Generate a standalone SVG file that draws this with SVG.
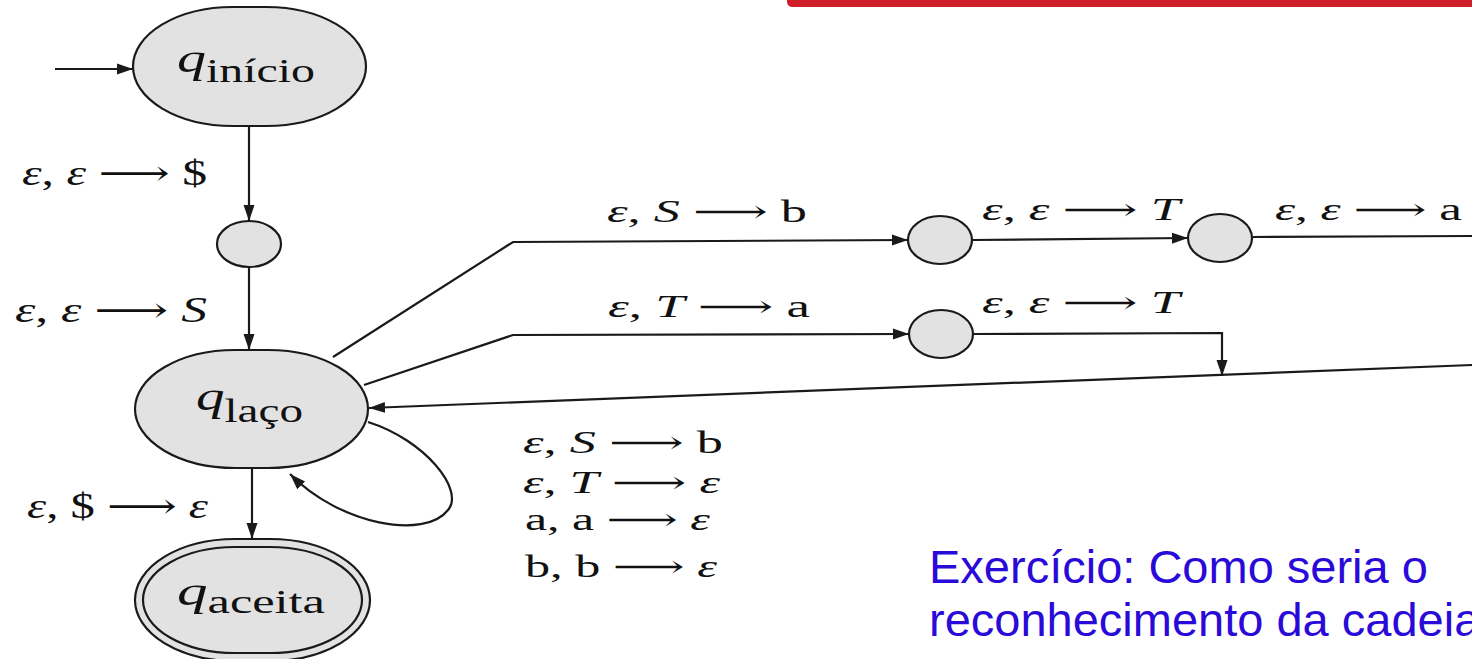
<svg xmlns="http://www.w3.org/2000/svg" width="1472" height="659" viewBox="0 0 1472 659">
<style>
.node{fill:#e2e2e2;stroke:#1a1a1a;stroke-width:2.2}
.edge{fill:none;stroke:#1a1a1a;stroke-width:2.2}
.lbl{font-family:"Liberation Serif","DejaVu Serif",serif;font-size:31px;fill:#111}
.big{font-size:35px}
.it{font-style:italic}
.ex{font-family:"Liberation Sans",Arial,sans-serif;font-size:47px;fill:#2a0ad8}
</style>
<defs>
<marker id="ah" markerUnits="userSpaceOnUse" markerWidth="18" markerHeight="14" refX="16" refY="7" orient="auto">
<path d="M0,1.5 L16,7 L0,12.5 Z" fill="#1a1a1a"/>
</marker>
</defs>
<rect width="1472" height="659" fill="#ffffff"/>
<path d="M787,0 L1472,0 L1472,7 L793,7 Q787,7 787,1 Z" fill="#d01e28"/>

<g id="connectors">
<path class="edge" d="M55,69 L133,69" marker-end="url(#ah)"/>
<path class="edge" d="M249,126 L249,221" marker-end="url(#ah)"/>
<path class="edge" d="M249,267 L249,350" marker-end="url(#ah)"/>
<path class="edge" d="M333,357 L513,242 L908,240" marker-end="url(#ah)"/>
<path class="edge" d="M364,385 L513,335 L909,334" marker-end="url(#ah)"/>
<path class="edge" d="M973,240 L1188,238" marker-end="url(#ah)"/>
<path class="edge" d="M1253,237 L1472,236"/>
<path class="edge" d="M974,334 L1222,333 L1222,376" marker-end="url(#ah)"/>
<path class="edge" d="M1472,365 L369,408" marker-end="url(#ah)"/>
<path class="edge" d="M368,422 C425,440 465,490 448,510 C425,540 340,525 290,474" marker-end="url(#ah)"/>
<path class="edge" d="M252,468 L252,539" marker-end="url(#ah)"/>
</g>

<g id="q_inicio">
<rect class="node" x="133" y="7" width="233" height="119" rx="100" ry="59.5"/>
<text class="lbl" x="177" y="72" textLength="138" lengthAdjust="spacingAndGlyphs"><tspan class="it" font-size="40">q</tspan><tspan dy="10" font-size="33">início</tspan></text>
</g>
<g id="n1">
<ellipse class="node" cx="249" cy="244" rx="32" ry="23"/>
</g>
<g id="q_laco">
<rect class="node" x="135" y="350" width="233" height="118" rx="100" ry="59"/>
<text class="lbl" x="196" y="410" textLength="107" lengthAdjust="spacingAndGlyphs"><tspan class="it" font-size="40">q</tspan><tspan dy="12" font-size="33">laço</tspan></text>
</g>
<g id="q_aceita">
<rect class="node" x="135" y="539" width="235" height="122" rx="100" ry="61"/>
<rect x="143" y="547" width="219" height="106" rx="92" ry="53" fill="none" stroke="#1a1a1a" stroke-width="2.2"/>
<text class="lbl" x="177" y="605" textLength="148" lengthAdjust="spacingAndGlyphs"><tspan class="it" font-size="40">q</tspan><tspan dy="8" font-size="33">aceita</tspan></text>
</g>
<g id="n2">
<ellipse class="node" cx="940" cy="240" rx="32" ry="24"/>
</g>
<g id="n3">
<ellipse class="node" cx="941" cy="334" rx="32" ry="24"/>
</g>
<g id="n4">
<ellipse class="node" cx="1220" cy="238" rx="32" ry="24"/>
</g>

<g id="labels">
<text class="lbl big" x="22" y="185" textLength="185" lengthAdjust="spacingAndGlyphs"><tspan class="it">ε</tspan>, <tspan class="it">ε</tspan> ⟶ $</text>
<text class="lbl big" x="15" y="322" textLength="192" lengthAdjust="spacingAndGlyphs"><tspan class="it">ε</tspan>, <tspan class="it">ε</tspan> ⟶ <tspan class="it">S</tspan></text>
<text class="lbl big" x="27" y="518" textLength="181" lengthAdjust="spacingAndGlyphs"><tspan class="it">ε</tspan>, $ ⟶ <tspan class="it">ε</tspan></text>
<text class="lbl" x="607" y="222" textLength="200" lengthAdjust="spacingAndGlyphs"><tspan class="it">ε</tspan>, <tspan class="it">S</tspan> ⟶ b</text>
<text class="lbl" x="608" y="317" textLength="202" lengthAdjust="spacingAndGlyphs"><tspan class="it">ε</tspan>, <tspan class="it">T</tspan> ⟶ a</text>
<text class="lbl" x="982" y="220" textLength="198" lengthAdjust="spacingAndGlyphs"><tspan class="it">ε</tspan>, <tspan class="it">ε</tspan> ⟶ <tspan class="it">T</tspan></text>
<text class="lbl" x="1275" y="220" textLength="187" lengthAdjust="spacingAndGlyphs"><tspan class="it">ε</tspan>, <tspan class="it">ε</tspan> ⟶ a</text>
<text class="lbl" x="982" y="313" textLength="198" lengthAdjust="spacingAndGlyphs"><tspan class="it">ε</tspan>, <tspan class="it">ε</tspan> ⟶ <tspan class="it">T</tspan></text>
<text class="lbl" x="523" y="453" textLength="200" lengthAdjust="spacingAndGlyphs"><tspan class="it">ε</tspan>, <tspan class="it">S</tspan> ⟶ b</text>
<text class="lbl" x="523" y="493" textLength="197" lengthAdjust="spacingAndGlyphs"><tspan class="it">ε</tspan>, <tspan class="it">T</tspan> ⟶ <tspan class="it">ε</tspan></text>
<text class="lbl" x="525" y="530" textLength="185" lengthAdjust="spacingAndGlyphs">a, a ⟶ <tspan class="it">ε</tspan></text>
<text class="lbl" x="525" y="577" textLength="192" lengthAdjust="spacingAndGlyphs">b, b ⟶ <tspan class="it">ε</tspan></text>
</g>

<g id="exercise">
<text class="ex" x="929" y="583">Exercício: Como seria o</text>
<text class="ex" x="929" y="636">reconhecimento da cadeia</text>
</g>
</svg>
